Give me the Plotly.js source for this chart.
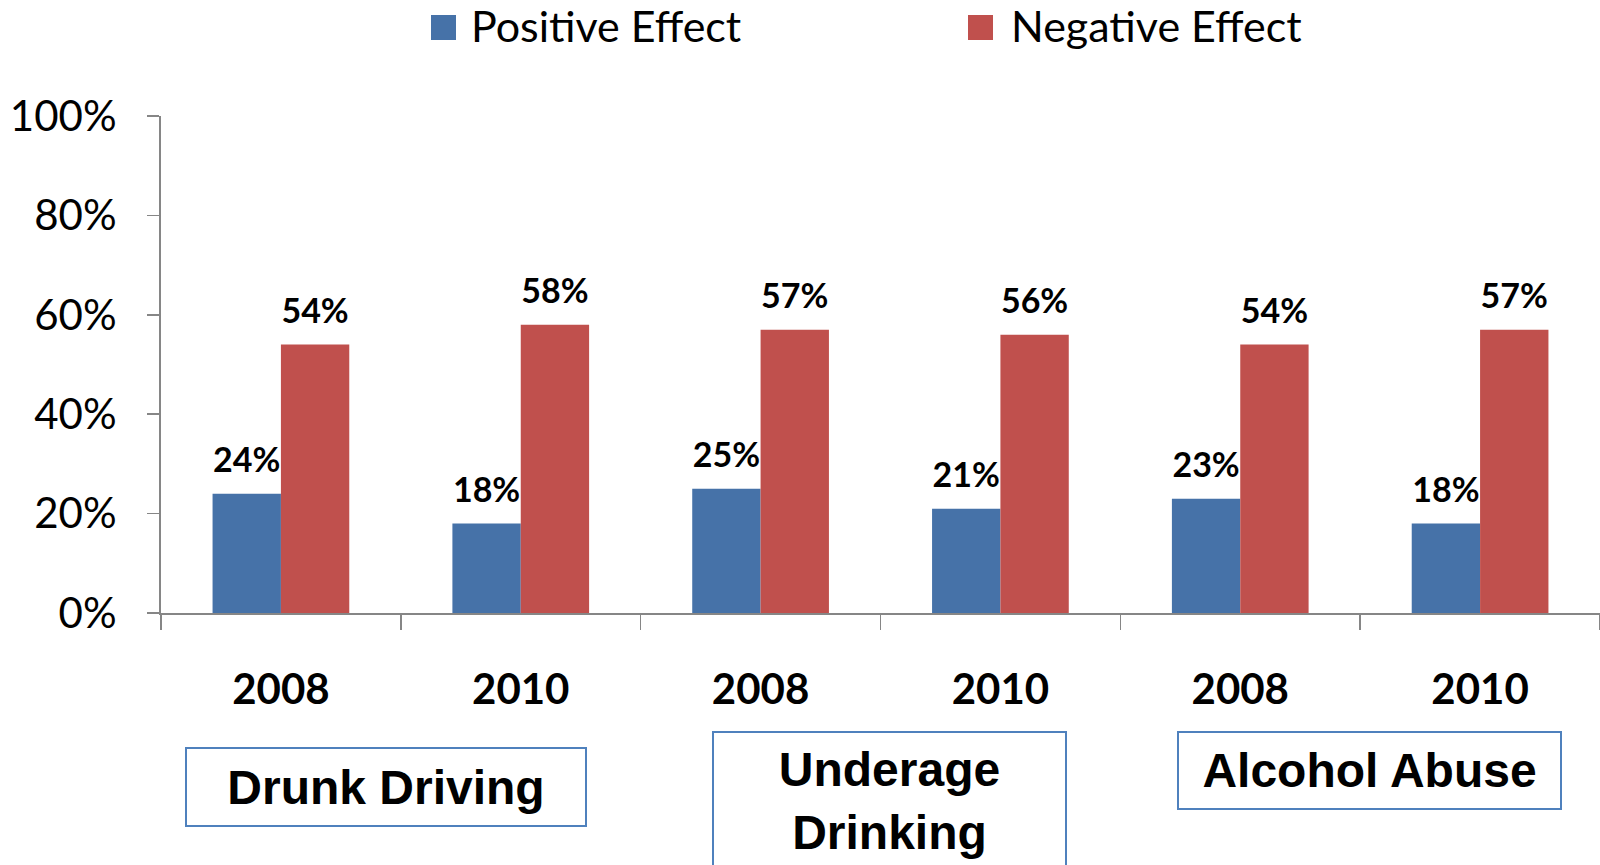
<!DOCTYPE html>
<html><head><meta charset="utf-8">
<script src="https://cdn.plot.ly/plotly-3.0.1.min.js"></script>
<style>html,body{margin:0;padding:0;background:#fff}#chart{width:1600px;height:865px}</style>
</head><body><div id="chart"></div>
<script>
// ---- data ----
const groups = ['Drunk Driving', 'Underage Drinking', 'Alcohol Abuse'];
const groupLabels = ['Drunk Driving', 'Underage<br>Drinking', 'Alcohol Abuse'];
const years = ['2008', '2010'];
const seriesNames = ['Positive Effect', 'Negative Effect'];
const positive = [0.24, 0.18, 0.25, 0.21, 0.23, 0.18];
const negative = [0.54, 0.58, 0.57, 0.56, 0.54, 0.57];
const yTickVals = [0, 0.2, 0.4, 0.6, 0.8, 1.0];

// ---- styling ----
const colors = ['#4672A8', '#C0504D'];
const bodyFont = 'Lato, "Open Sans", sans-serif';
const boxFont = '"Liberation Sans", Arial, sans-serif';
const axisGray = '#868686';

const xKeys = [];
const xYears = [];
groups.forEach(g => years.forEach(y => { xKeys.push(g + ' ' + y); xYears.push(y); }));
const series = [positive, negative];

const traces = [];
series.forEach((vals, i) => {
  traces.push({
    type: 'bar', name: seriesNames[i], x: xKeys, y: vals,
    offsetgroup: String(i), marker: {color: colors[i]},
    showlegend: false, hoverinfo: 'x+y'
  });
});
series.forEach((vals, i) => {
  traces.push({
    type: 'scatter', mode: 'markers+text', x: xKeys, y: vals,
    offsetgroup: String(i),
    text: vals.map(v => Math.round(v * 100) + '%'),
    textposition: 'top center',
    textfont: {family: bodyFont, size: 34, weight: 'bold', color: '#000'},
    marker: {size: 20, opacity: 0}, cliponaxis: false,
    showlegend: false, hoverinfo: 'skip'
  });
});

// plot frame in pixels
const L = 161, R = 1600, T = 116, B = 613;
const px2x = p => (p - L) / (R - L);
const px2y = p => (B - p) / (B - T);

const annotations = [];
const shapes = [];
// manual legend
const legendPos = [{sq: 431, tx: 469}, {sq: 968, tx: 1009}];
seriesNames.forEach((n, i) => {
  shapes.push({type: 'rect', xref: 'paper', yref: 'paper',
    x0: px2x(legendPos[i].sq), x1: px2x(legendPos[i].sq + 25),
    y0: px2y(40), y1: px2y(15), line: {width: 0}, fillcolor: colors[i]});
  annotations.push({xref: 'paper', yref: 'paper', x: px2x(legendPos[i].tx), y: px2y(26),
    xanchor: 'left', yanchor: 'middle', showarrow: false, text: n,
    font: {family: bodyFont, size: 43, color: '#000'}});
});
// group boxes
const boxes = [
  {x0: 186, x1: 586, y0: 748, y1: 826},
  {x0: 713, x1: 1066, y0: 732, y1: 870},
  {x0: 1178, x1: 1561, y0: 732, y1: 809}
];
groupLabels.forEach((g, i) => {
  const b = boxes[i];
  annotations.push({xref: 'paper', yref: 'paper',
    x: px2x((b.x0 + b.x1) / 2), y: px2y((b.y0 + b.y1) / 2),
    xanchor: 'center', yanchor: 'middle', showarrow: false,
    text: g, width: b.x1 - b.x0 - 2, height: b.y1 - b.y0 - 2,
    align: 'center', valign: 'middle',
    bordercolor: '#4F81BD', borderwidth: 2, borderpad: 0,
    font: {family: boxFont, size: 48, weight: 'bold', color: '#000'}});
});

const layout = {
  width: 1600, height: 865,
  margin: {l: L, r: 1600 - R, t: T, b: 865 - B},
  paper_bgcolor: '#fff', plot_bgcolor: '#fff',
  barmode: 'group', bargap: 0.43, bargroupgap: 0,
  scattermode: 'group',
  showlegend: false,
  xaxis: {
    type: 'category', tickvals: xKeys, ticktext: xYears,
    showline: true, linecolor: axisGray, linewidth: 2,
    ticks: 'outside', tickson: 'boundaries', ticklen: 15, tickcolor: axisGray, tickwidth: 1.5,
    ticklabelstandoff: 39,
    tickfont: {family: bodyFont, size: 42, weight: 'bold', color: '#000'},
    showgrid: false, zeroline: false, fixedrange: true
  },
  yaxis: {
    range: [0, 1], tickvals: yTickVals, tickformat: '.0%',
    showline: true, linecolor: axisGray, linewidth: 2,
    ticks: 'outside', ticklen: 12, tickcolor: axisGray, tickwidth: 1.5,
    ticklabelstandoff: 22,
    tickfont: {family: bodyFont, size: 42, color: '#000'},
    showgrid: false, zeroline: false, fixedrange: true
  },
  shapes: shapes,
  annotations: annotations
};

Plotly.newPlot('chart', traces, layout, {displayModeBar: false, staticPlot: true});
</script>
</body></html>
